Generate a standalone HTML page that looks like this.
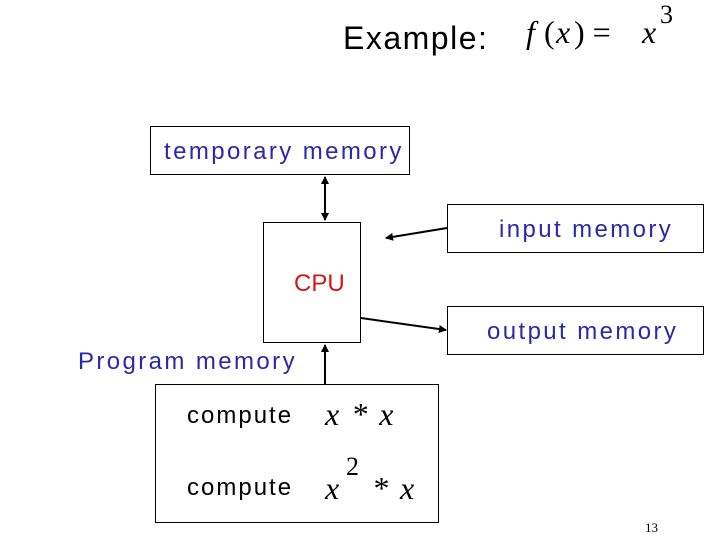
<!DOCTYPE html>
<html><head><meta charset="utf-8"><style>
body{margin:0;width:720px;height:540px;background:#fff;position:relative;overflow:hidden;font-family:"Liberation Sans",sans-serif}
.b{position:absolute;border:1px solid #000;box-sizing:border-box}
.t{position:absolute;white-space:nowrap;font-size:24px;color:#2a2aa8;letter-spacing:2.4px}
.m{position:absolute;white-space:nowrap;font-family:"Liberation Serif",serif;font-style:italic;font-size:32px;color:#000}
</style></head><body>
<div class="t" style="left:343px;top:20px;font-size:32px;color:#000;letter-spacing:1.5px">Example:</div>
<div class="m" style="left:526px;top:14px">f</div>
<div class="m" style="left:544px;top:14px;font-style:normal">(</div>
<div class="m" style="left:556px;top:14px">x</div>
<div class="m" style="left:574px;top:14px;font-style:normal">) =</div>
<div class="m" style="left:642px;top:14px">x</div>
<div class="m" style="left:660px;top:0px;font-style:normal;font-size:26px">3</div>

<div class="b" style="left:150px;top:126px;width:260px;height:49px"></div>
<div class="t" style="left:164px;top:138px">temporary memory</div>
<div class="b" style="left:263px;top:222px;width:98px;height:121px"></div>
<div class="t" style="left:294px;top:270px;color:#d01818;letter-spacing:0">CPU</div>
<div class="b" style="left:447px;top:204px;width:257px;height:49px"></div>
<div class="t" style="left:499px;top:216px">input memory</div>
<div class="b" style="left:447px;top:306px;width:257px;height:49px"></div>
<div class="t" style="left:487px;top:318px">output memory</div>
<div class="t" style="left:78px;top:348px">Program memory</div>
<div class="b" style="left:155px;top:384px;width:284px;height:139px"></div>
<div class="t" style="left:187px;top:402px;color:#000;letter-spacing:2px">compute</div>
<div class="t" style="left:187px;top:474px;color:#000;letter-spacing:2px">compute</div>
<div class="m" style="left:325px;top:396px;letter-spacing:2px">x * x</div>
<div class="m" style="left:325px;top:470px">x</div>
<div class="m" style="left:346px;top:452px;font-style:normal;font-size:26px">2</div>
<div class="m" style="left:372px;top:470px;letter-spacing:2px">* x</div>
<div style="position:absolute;left:645px;top:520px;font-family:'Liberation Serif',serif;font-size:13px">13</div>

<svg width="720" height="540" style="position:absolute;left:0;top:0">
<defs><marker id="a" markerWidth="8" markerHeight="8" refX="7" refY="4" orient="auto" markerUnits="userSpaceOnUse"><path d="M0,0L8,4L0,8z" fill="#000"/></marker></defs>
<g stroke="#000" stroke-width="2" fill="none">
<line x1="325" y1="190" x2="325" y2="220" marker-end="url(#a)"/>
<line x1="325" y1="205" x2="325" y2="177" marker-end="url(#a)"/>
<line x1="447" y1="228" x2="386" y2="238" marker-end="url(#a)"/>
<line x1="361" y1="318" x2="446" y2="330" marker-end="url(#a)"/>
<line x1="325" y1="384" x2="325" y2="345" marker-end="url(#a)"/>
</g></svg>
</body></html>
